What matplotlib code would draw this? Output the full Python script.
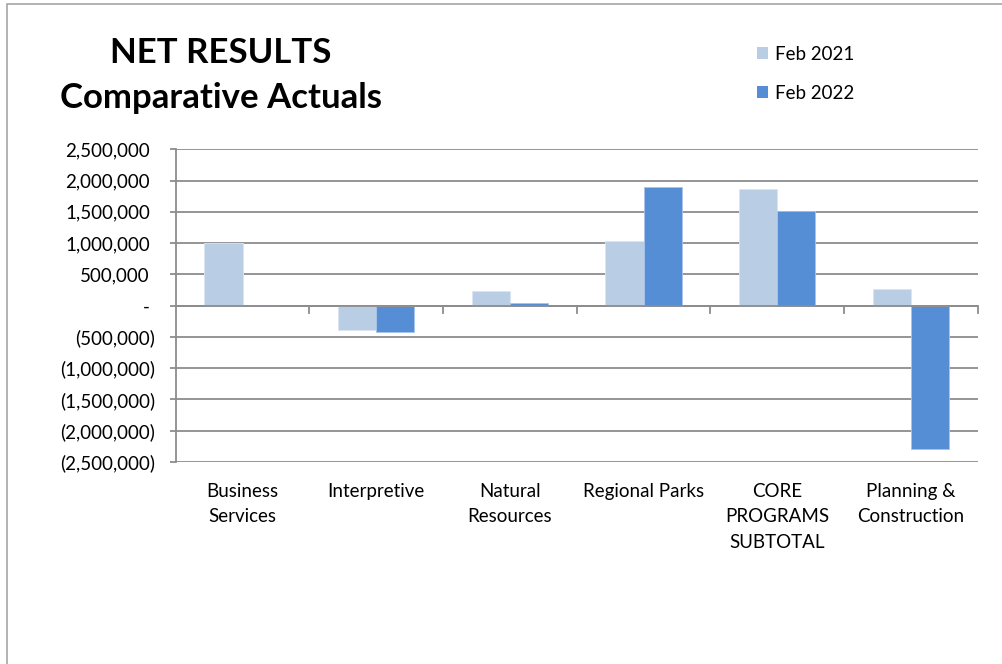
import numpy as np
import matplotlib.pyplot as plt
from matplotlib.patches import Patch, Rectangle
from matplotlib.ticker import FuncFormatter
import matplotlib.transforms as mtransforms

plt.rcParams['font.family'] = ['Lato', 'DejaVu Sans']

# Net results by program area
categories = ['Business\nServices', 'Interpretive', 'Natural\nResources',
              'Regional Parks', 'CORE\nPROGRAMS\nSUBTOTAL', 'Planning &\nConstruction']
feb_2021 = [1000000, -390000, 230000, 1035000, 1872000, 262000]
feb_2022 = [12000, -416000, 45000, 1903000, 1520000, -2287000]
series_names = ['Feb 2021', 'Feb 2022']
series_colors = ['#B9CDE5', '#558ED5']

y_ticks = np.arange(-2500000, 2500001, 500000)

fig = plt.figure(figsize=(10.03, 6.64), dpi=100)
ax = fig.add_axes([0.1752, 0.3042, 0.7996, 0.4710])

# outer chart border
fig.patches.append(Rectangle((7 / 1003, -0.05), 1.1, 1 - 4 / 664 + 0.05,
                             transform=fig.transFigure, fill=False,
                             edgecolor='#A6A6A6', linewidth=1.2))

x = np.arange(len(categories))
w = 0.286
ax.bar(x - w / 2, feb_2021, w, color=series_colors[0], edgecolor='#DCE6F2',
       linewidth=0.6, zorder=3)
ax.bar(x + w / 2, feb_2022, w, color=series_colors[1], edgecolor='#A9C4EB',
       linewidth=0.6, zorder=3)

ax.set_xlim(-0.5, len(categories) - 0.5)
ax.set_ylim(-2500000, 2500000)
ax.set_yticks(y_ticks)


def acct(v, pos):
    if v == 0:
        return '-'
    if v < 0:
        return '({:,.0f})'.format(-v)
    return '{:,.0f}'.format(v)


ax.yaxis.set_major_formatter(FuncFormatter(acct))
ax.yaxis.grid(True, color='#8C8C8C', linewidth=1.3, zorder=0)
ax.tick_params(axis='y', length=4.5, width=1.3, color='#8C8C8C', pad=10.5,
               labelsize=13.5, labelcolor='black')

# positive numbers sit left of the closing parenthesis column
for lbl, v in zip(ax.get_yticklabels(), y_ticks):
    if v >= 0:
        lbl.set_transform(lbl.get_transform() +
                          mtransforms.ScaledTranslation(-5 / 100, 0, fig.dpi_scale_trans))

# category axis drawn on the zero line
ax.set_xticks([])
ax.axhline(0, color='#8C8C8C', linewidth=1.3, zorder=4)
for b in np.arange(0.5, len(categories) - 0.5 + 1e-9, 1.0):
    ax.plot([b, b], [0, -110000], color='#8C8C8C', linewidth=1.3,
            clip_on=False, zorder=4)
for xi, name in zip(x, categories):
    ax.annotate(name, xy=(xi, 0), xycoords=('data', 'axes fraction'),
                xytext=(0, -14.8), textcoords='offset points',
                ha='center', va='top', fontsize=13.5, linespacing=1.62)

for s in ['top', 'right', 'bottom']:
    ax.spines[s].set_visible(False)
ax.spines['left'].set_color('#8C8C8C')
ax.spines['left'].set_linewidth(1.3)

fig.text(221 / 1003, 1 - 53 / 664, 'NET RESULTS', ha='center', va='center',
         fontsize=25, fontweight='bold')
fig.text(221 / 1003, 1 - 98 / 664, 'Comparative Actuals', ha='center', va='center',
         fontsize=25, fontweight='bold')

handles = [Patch(facecolor=c, edgecolor='none') for c in series_colors]
fig.legend(handles, series_names, loc='upper left',
           bbox_to_anchor=(757 / 1003, 1 - 45.5 / 664), frameon=False,
           borderpad=0, borderaxespad=0,
           fontsize=13.5, handlelength=0.6, handleheight=0.6, handletextpad=0.35,
           labelspacing=1.2)

fig.savefig('out.png', dpi=100)
